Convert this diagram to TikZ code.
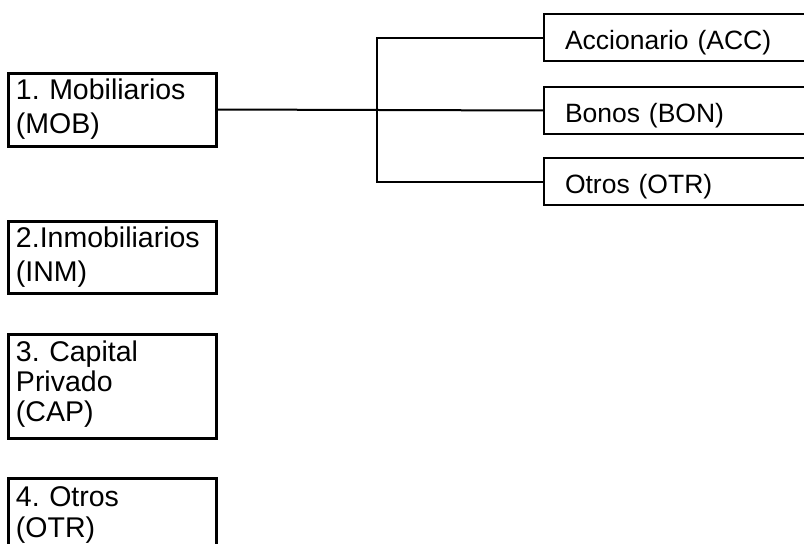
\documentclass[tikz,border=0pt]{standalone}
\usepackage{fontspec}
\setmainfont{Liberation Sans}
\frenchspacing
\begin{document}
\begin{tikzpicture}[x=1pt,y=-1pt,
  catbox/.style={draw, line width=3pt, anchor=base west, outer sep=0pt,
    inner xsep=8pt, inner ysep=0pt, text width=192pt, align=left},
  subbox/.style={draw, line width=1.3pt, anchor=base west, outer sep=0pt,
    inner xsep=21pt, inner ysep=0pt, text width=260pt, align=left,
    text height=35pt, text depth=12pt,
    font=\frenchspacing\fontsize{26.5}{30}\selectfont},
  link/.style={line width=2pt}]
\clip (0,0) rectangle (804,544);
\fill[white] (0,0) rectangle (804,544);
% left category boxes
\node[catbox, text height=26pt, text depth=47pt,
  font=\frenchspacing\fontsize{28.5}{34}\selectfont] (mob) at (8,99)
  {1. Mobiliarios\\(MOB)};
\node[catbox, text height=26pt, text depth=46pt,
  font=\frenchspacing\fontsize{28.5}{34}\selectfont] (inm) at (8,247)
  {2.Inmobiliarios\\(INM)};
\node[catbox, text height=27pt, text depth=77pt,
  font=\frenchspacing\fontsize{28.5}{30}\selectfont] (cap) at (8,361)
  {3. Capital\\Privado\\(CAP)};
\node[catbox, text height=28pt, text depth=80pt,
  font=\frenchspacing\fontsize{28.5}{31}\selectfont] (otros) at (8,506)
  {4. Otros\\(OTR)};
% right sub boxes
\node[subbox] (acc) at (544,49) {Accionario (ACC)};
\node[subbox] (bon) at (544,122) {Bonos (BON)};
\node[subbox] (otr) at (544,193) {Otros (OTR)};
% connectors
\coordinate (j) at (377,109.5);
\draw[link] (mob.east) -- (bon.west);
\draw[link] (acc.west) -| (j) |- (otr.west);
\end{tikzpicture}
\end{document}
